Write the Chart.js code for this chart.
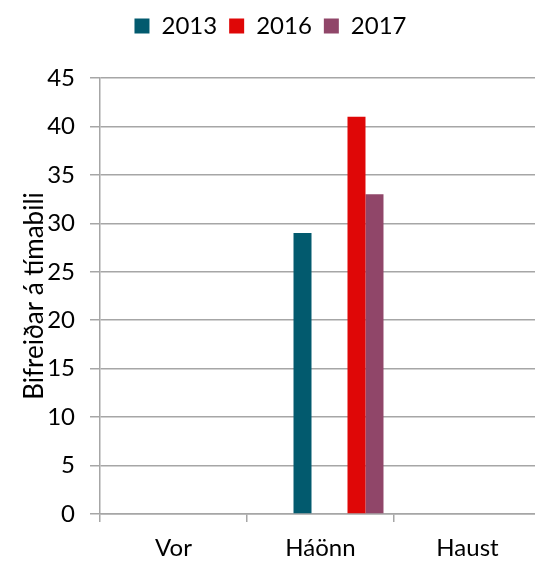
<!DOCTYPE html>
<html lang="is">
<head>
  <meta charset="UTF-8">
  <title>Bifreiðar á tímabili</title>
  <style>
    html, body {
      margin: 0;
      padding: 0;
      background: white;
      overflow: hidden;
    }
    .chart-box {
      width: 541px;
      height: 563px;
      position: relative;
    }
  </style>
  <script src="https://cdn.jsdelivr.net/npm/chart.js"></script>
</head>
<body>
  <div class="chart-box">
    <canvas id="carChart"></canvas>
  </div>

  <script>
    const categories = ['Vor', 'Háönn', 'Haust'];
    // seven year slots per group, only three of them have data
    const seriesNames = ['', '', '2013', '', '', '2016', '2017'];
    const values2013 = [null, 29, null];
    const values2016 = [null, 41, null];
    const values2017 = [null, 33, null];
    const emptySlot = [null, null, null];
    const yTicks = [0, 5, 10, 15, 20, 25, 30, 35, 40, 45];

    const seriesValues = [emptySlot, emptySlot, values2013, emptySlot, emptySlot, values2016, values2017];
    const seriesColors = ['#ffffff', '#ffffff', '#025a6e', '#ffffff', '#ffffff', '#df0707', '#904669'];

    const gridGrey = '#a6a6a6';
    const fontFamily = 'Lato, "Open Sans", sans-serif';

    // push the plot area down below the legend
    const legendGap = {
      id: 'legendGap',
      beforeInit(chart) {
        const origFit = chart.legend.fit;
        chart.legend.fit = function () {
          origFit.bind(chart.legend)();
          this.height += 30;
        };
      }
    };

    const ctx = document.getElementById('carChart').getContext('2d');
    const carChart = new Chart(ctx, {
      type: 'bar',
      data: {
        labels: categories,
        datasets: seriesNames.map((name, i) => ({
          label: name,
          data: seriesValues[i],
          backgroundColor: seriesColors[i],
          categoryPercentage: 0.857,
          barPercentage: 1.0
        }))
      },
      options: {
        responsive: true,
        maintainAspectRatio: false,
        animation: false,
        layout: {
          padding: { top: 2, bottom: 0, left: 0, right: 0 }
        },
        plugins: {
          legend: {
            position: 'top',
            labels: {
              boxWidth: 15,
              boxHeight: 15,
              padding: 12,
              color: '#000',
              font: { family: fontFamily, size: 24 },
              filter: item => item.text !== ''
            }
          },
          tooltip: { enabled: false }
        },
        scales: {
          x: {
            grid: {
              drawOnChartArea: false,
              drawTicks: true,
              tickLength: 8,
              color: gridGrey,
              lineWidth: 1.5
            },
            border: { color: gridGrey, width: 1.5 },
            ticks: {
              color: '#000',
              padding: 12,
              font: { family: fontFamily, size: 24 }
            },
            afterFit: scale => { scale.height = 49; }
          },
          y: {
            min: 0,
            max: 45,
            afterBuildTicks: scale => {
              scale.ticks = yTicks.map(v => ({ value: v }));
            },
            grid: {
              color: gridGrey,
              lineWidth: 1.5,
              drawTicks: true,
              tickLength: 10
            },
            border: { color: gridGrey, width: 1.5 },
            ticks: {
              color: '#000',
              padding: 15,
              font: { family: fontFamily, size: 24 }
            },
            title: {
              display: true,
              text: 'Bifreiðar á tímabili',
              color: '#000',
              padding: { top: 19, bottom: 0 },
              font: { family: fontFamily, size: 26 }
            },
            afterFit: scale => { scale.width = 100; }
          }
        }
      },
      plugins: [legendGap]
    });
  </script>
</body>
</html>
